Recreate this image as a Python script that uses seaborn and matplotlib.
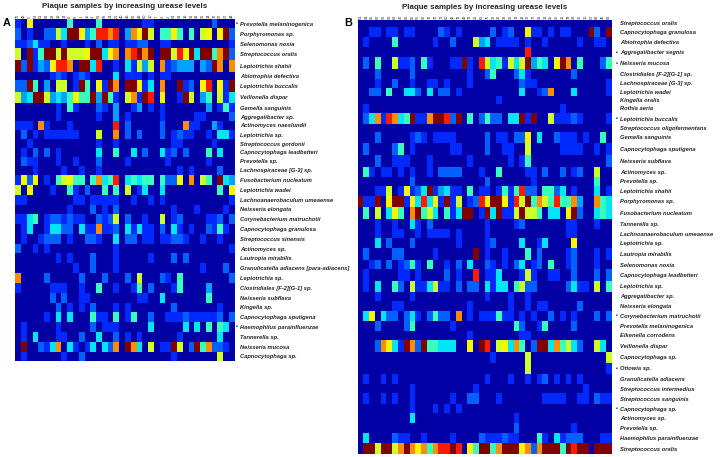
import numpy as np
import matplotlib
matplotlib.use('Agg')
import matplotlib.pyplot as plt
import seaborn as sns

# abundance level for each taxon: 0 (navy) ... 10 (dark red)
taxa_a = [
    'Prevotella melaninogenica', 'Porphyromonas sp.', 'Selenomonas noxia', 'Streptococcus oralis',
    'Leptotrichia shahii', 'Abiotrophia defectiva', 'Leptotrichia buccalis', 'Veillonella dispar',
    'Gemella sanguinis', 'Aggregatibacter sp.', 'Actinomyces naeslundii', 'Leptotrichia sp.',
    'Streptococcus gordonii', 'Capnocytophaga leadbetteri', 'Prevotella sp.', 'Lachnospiraceae [G-3] sp.',
    'Fusobacterium nucleatum', 'Leptotrichia wadei', 'Lachnoanaerobaculum umeaense', 'Neisseria elongata',
    'Corynebacterium matruchotii', 'Capnocytophaga granulosa', 'Streptococcus sinensis', 'Actinomyces sp.',
    'Lautropia mirabilis', 'Granulicatella adiacens [para-adiacens]', 'Leptotrichia sp.',
    'Clostridiales [F-2][G-1] sp.', 'Neisseria subflava', 'Kingella sp.', 'Capnocytophaga sputigena',
    'Haemophilus parainfluenzae', 'Tannerella sp.', 'Neisseria mucosa', 'Capnocytophaga sp.',
]
marked_a = ['Prevotella melaninogenica', 'Haemophilus parainfluenzae']
samples_a = [72, 48, 5, 53, 51, 58, 28, 19, 34, 6, 9, 1, 15, 4, 56, 59, 24, 26, 40, 46, 50, 43, 60, 10, 7, 3, 2,
             54, 33, 18, 39, 41, 36, 14, 32, 37, 27, 44]
row_heights_a = [27, 35, 25, 35, 35, 25, 35, 35, 27, 26, 27, 28, 27, 25, 28, 27, 30, 30, 30, 27, 30, 30, 30, 28,
                 30, 28, 30, 30, 30, 27, 30, 30, 30, 30, 28]
levels_a = [
    [1,0,7,0,0,0,0,0,0,5, 0,0,0,0,5,0,0,0,0,0, 0,0,1,1,0,0,0,0,0,0, 0,0,0,0,2,0,0,0],
    [2,0,1,0,0,2,2,6,4,10, 10,7,3,5,9,9,8,9,0,3, 8,7,10,6,0,5,5,7,5,0, 5,0,6,7,0,7,10,2],
    [1,1,2,4,1,1,0,0,1,0, 0,0,1,0,2,0,1,1,0,1, 1,2,2,0,0,1,1,0,0,0, 0,0,0,0,0,0,0,1],
    [6,0,10,1,5,10,10,6,10,6, 6,6,7,10,10,4,7,8,0,8, 9,10,8,10,0,10,10,6,9,7, 10,4,10,10,5,8,10,2],
    [10,2,10,1,3,2,7,9,9,8, 0,10,10,4,9,0,0,1,0,4, 1,6,3,6,0,8,1,2,3,3, 3,0,3,2,10,8,0,8],
    [0,0,0,0,0,0,1,2,1,0, 1,2,1,0,0,0,0,4,0,1, 1,1,0,1,0,1,1,0,0,0, 0,0,0,0,0,0,0,0],
    [2,2,10,5,0,3,0,6,6,0, 1,10,5,0,7,1,10,8,0,10, 10,7,1,4,0,8,0,0,10,1, 2,0,7,9,0,7,1,10],
    [6,3,4,10,10,6,3,4,3,5, 7,5,5,10,3,10,5,1,0,6, 8,1,10,9,0,7,0,0,1,10, 6,0,3,5,0,6,1,4],
    [0,0,0,0,0,0,0,1,0,5, 1,0,0,0,2,1,0,3,0,0, 1,3,0,1,0,1,0,0,0,0, 0,0,0,3,0,1,5,1],
    [0,0,0,0,0,0,0,1,0,0, 0,0,0,0,1,0,0,3,0,1, 0,0,0,0,0,1,0,0,0,0, 0,1,1,0,0,0,0,2],
    [1,1,1,0,8,1,0,0,0,1, 0,0,0,0,0,0,0,9,0,2, 0,0,0,0,0,2,0,0,0,8, 1,1,0,0,3,1,0,0],
    [0,2,0,1,0,1,1,1,1,1, 1,0,0,0,6,0,0,8,0,2, 0,2,0,0,0,2,0,1,2,1, 1,0,0,1,0,4,4,1],
    [0,0,1,0,0,0,0,0,0,0, 0,0,0,0,1,0,0,1,0,0, 0,0,0,0,0,0,0,1,1,0, 0,0,0,0,1,0,0,0],
    [0,1,0,2,0,2,0,1,0,0, 0,0,0,0,4,0,0,5,0,0, 4,0,2,0,0,4,1,2,0,2, 0,0,0,5,0,4,0,0],
    [0,2,1,1,0,0,0,1,0,0, 1,0,0,0,2,0,0,0,0,1, 0,0,0,0,0,0,1,0,0,0, 0,0,0,1,0,0,0,0],
    [0,0,0,1,0,0,0,0,1,0, 0,1,0,0,1,0,0,0,0,0, 0,0,0,0,0,0,0,0,1,0, 1,0,0,0,0,2,0,0],
    [1,7,2,7,0,1,0,5,6,7, 5,5,0,5,8,4,5,9,0,4, 5,4,5,5,0,5,2,2,7,0, 8,0,6,5,0,10,4,3],
    [6,0,7,0,0,0,1,0,0,5, 1,0,2,0,0,5,0,5,0,6, 0,1,4,0,0,4,0,0,0,0, 0,0,0,0,0,5,0,7],
    [1,1,0,0,0,0,0,0,0,0, 1,1,0,1,1,1,1,1,0,0, 1,0,0,1,0,1,0,0,0,0, 0,0,0,0,0,0,0,1],
    [0,0,0,0,0,0,0,0,0,1, 0,0,0,2,0,1,0,2,0,0, 0,0,0,0,0,0,0,1,0,0, 0,1,0,0,0,0,1,0],
    [1,1,4,5,0,1,2,2,1,2, 1,1,0,0,2,1,2,6,0,2, 0,0,1,0,0,6,0,1,2,0, 0,0,0,1,1,2,0,2],
    [0,1,4,0,0,1,4,4,2,2, 0,4,1,1,8,1,1,2,0,4, 1,4,1,1,0,2,0,4,1,0, 1,0,0,2,1,5,1,0],
    [0,1,0,0,1,2,2,2,0,1, 0,0,2,2,1,0,0,4,0,2, 2,0,1,1,0,1,1,2,2,1, 0,0,1,0,0,1,0,0],
    [2,0,0,1,0,1,0,0,0,0, 0,0,0,0,0,0,0,1,0,0, 0,0,0,0,0,0,0,0,0,0, 0,0,0,0,0,0,0,1],
    [0,0,0,0,0,0,0,1,0,1, 0,0,0,2,0,0,0,1,0,0, 0,0,0,1,0,0,0,2,0,2, 0,0,0,0,0,0,0,0],
    [0,0,0,0,0,0,0,0,0,0, 1,0,0,2,0,0,0,1,0,0, 0,0,0,0,0,0,0,0,0,0, 0,0,1,0,0,0,2,0],
    [8,0,0,0,0,2,0,0,0,0, 0,2,0,0,0,2,0,0,0,2, 0,6,0,0,0,2,1,0,5,0, 0,0,0,0,0,0,0,2],
    [1,0,0,0,0,0,1,1,1,0, 0,1,0,0,5,0,0,1,0,0, 1,5,0,2,0,0,0,1,5,0, 0,0,0,3,0,0,0,0],
    [0,0,0,0,0,0,2,0,2,0, 0,1,1,0,0,0,0,0,0,0, 0,1,1,0,0,4,0,0,0,0, 0,0,0,5,0,0,0,0],
    [0,0,0,0,0,0,0,2,0,1, 0,1,0,2,0,0,0,1,0,1, 0,0,0,0,0,0,0,2,0,0, 0,0,0,0,0,1,0,0],
    [0,0,0,0,0,1,0,4,0,4, 0,0,0,5,1,1,0,5,0,1, 5,0,0,2,0,0,1,1,1,2, 1,1,1,1,1,2,0,2],
    [0,1,0,0,0,0,0,1,0,0, 0,0,0,2,0,1,1,1,0,0, 0,0,0,4,0,0,0,0,0,4, 0,4,0,5,0,5,4,0],
    [0,1,0,4,0,0,0,1,1,0, 0,2,0,0,4,0,0,2,0,1, 0,1,0,0,0,0,0,0,1,0, 0,0,0,0,0,4,0,0],
    [0,10,0,0,2,1,4,8,0,4, 1,0,1,4,0,4,2,8,0,10, 8,4,0,6,0,1,1,10,6,0, 2,10,5,8,2,2,1,0],
    [0,1,0,0,0,0,0,0,1,0, 0,2,0,0,0,0,0,0,0,0, 0,0,0,0,0,0,0,1,0,0, 0,0,0,0,0,6,0,0],
]

taxa_b = [
    'Streptococcus oralis', 'Capnocytophaga granulosa', 'Abiotrophia defectiva', 'Aggregatibacter segnis',
    'Neisseria mucosa', 'Clostridiales [F-2][G-1] sp.', 'Lachnospiraceae [G-3] sp.', 'Leptotrichia wadei',
    'Kingella oralis', 'Rothia aeria', 'Leptotrichia buccalis', 'Streptococcus oligofermentans',
    'Gemella sanguinis', 'Capnocytophaga sputigena', 'Neisseria subflava', 'Actinomyces sp.', 'Prevotella sp.',
    'Leptotrichia shahii', 'Porphyromonas sp.', 'Fusobacterium nucleatum', 'Tannerella sp.',
    'Lachnoanaerobaculum umeaense', 'Leptotrichia sp.', 'Lautropia mirabilis', 'Selenomonas noxia',
    'Capnocytophaga leadbetteri', 'Leptotrichia sp.', 'Aggregatibacter sp.', 'Neisseria elongata',
    'Corynebacterium matruchotii', 'Prevotella melaninogenica', 'Eikenella corrodens', 'Veillonella dispar',
    'Capnocytophaga sp.', 'Ottowia sp.', 'Granulicatella adiacens', 'Streptococcus intermedius',
    'Streptococcus sanguinis', 'Capnocytophaga sp.', 'Actinomyces sp.', 'Prevotella sp.',
    'Haemophilus parainfluenzae', 'Streptococcus oralis',
]
marked_b = [3, 4, 10, 29, 34, 38]
samples_b = [61, 64, 65, 67, 56, 63, 68, 47, 69, 55, 52, 62, 76, 70, 71, 60, 42, 78, 49, 73, 21, 66, 75, 29, 20,
             38, 22, 74, 12, 17, 77, 31, 13, 25, 35, 11, 79, 23, 30, 16, 57, 83, 45, 81]
row_heights_b = [20, 32, 30, 30, 36, 29, 26, 25, 24, 26, 35, 22, 35, 35, 35, 30, 28, 29, 35, 35, 30, 28, 30, 35,
                 28, 35, 32, 27, 30, 30, 30, 28, 35, 33, 34, 31, 27, 32, 28, 30, 30, 30, 32]
levels_b = [
    [0,0,0,0,0,0,0,0,0,0, 0,0,0,0,0,0,0,0,0,0, 0,0,0,0,0,0,0,0,0,0, 0,0,0,0,0,0,0,0,0,0, 0,0,0,0],
    [0,0,1,1,0,1,1,0,1,1, 0,0,0,0,2,1,0,1,0,0, 0,0,0,2,0,1,2,0,0,7, 1,1,0,1,0,1,1,0,0,0, 10,2,0,10],
    [0,1,0,0,0,0,5,0,0,0, 0,0,0,1,0,0,2,0,0,0, 6,3,4,0,1,1,1,1,0,1, 0,0,1,0,0,0,0,0,1,0, 0,1,1,0],
    [0,0,0,0,0,0,0,0,0,0, 0,0,0,0,0,0,0,0,0,0, 0,0,0,0,0,0,0,0,0,9, 0,0,0,0,0,0,0,0,0,0, 0,0,0,0],
    [0,2,0,5,0,0,6,1,1,2, 0,5,1,0,0,0,1,1,10,1, 0,9,6,4,5,1,6,4,6,10, 3,5,4,0,7,10,8,0,5,0, 0,0,2,5],
    [0,0,0,2,0,0,0,0,0,2, 0,0,0,0,0,0,0,0,0,1, 0,0,2,5,0,0,0,2,4,1, 0,0,0,0,0,0,0,2,0,0, 0,0,0,0],
    [0,0,0,1,0,0,2,0,0,1, 0,0,1,1,0,1,0,0,0,1, 0,0,0,0,0,0,0,0,2,1, 1,0,0,0,0,0,0,0,0,0, 0,0,0,1],
    [0,0,2,2,0,5,0,0,4,4, 2,0,4,0,2,2,0,1,0,0, 0,0,0,0,0,0,0,0,4,0, 0,1,2,8,0,0,0,4,0,0, 0,0,0,1],
    [0,0,0,0,0,0,0,0,0,0, 0,0,0,0,0,0,0,0,0,0, 0,0,0,0,1,0,0,0,0,0, 0,0,0,0,0,0,0,0,0,0, 0,0,0,0],
    [0,1,0,0,0,0,0,0,0,0, 0,0,0,0,0,0,0,0,0,0, 0,0,0,0,0,0,0,0,0,0, 0,0,0,0,0,1,0,0,0,0, 0,0,0,0],
    [0,2,4,8,1,9,8,4,5,10, 1,1,8,10,10,9,2,10,0,5, 0,2,5,2,2,0,4,4,10,1, 10,0,0,6,1,1,1,2,1,0, 0,0,0,1],
    [0,0,0,0,0,0,0,0,0,0, 0,0,0,0,0,0,0,0,0,0, 0,0,0,0,0,0,0,0,0,0, 0,0,0,0,0,0,0,0,0,0, 0,0,0,0],
    [0,0,0,2,0,0,0,0,0,1, 2,1,0,1,1,1,1,0,0,0, 0,0,2,0,1,1,0,2,2,7, 0,4,0,0,2,1,1,1,0,1, 0,0,5,0],
    [0,2,0,0,0,0,2,5,0,1, 0,0,0,0,0,0,1,1,0,0, 0,0,2,0,0,1,1,0,0,6, 0,0,0,0,0,1,1,1,1,0, 0,1,0,1],
    [0,0,0,2,0,0,1,1,1,0, 0,0,1,0,0,0,0,0,0,1, 0,0,0,0,0,0,1,0,1,5, 0,0,0,0,0,0,0,0,0,0, 0,0,0,2],
    [0,5,1,0,1,1,0,1,0,1, 0,0,1,0,2,2,2,2,0,0, 0,1,0,0,5,0,0,0,0,1, 1,0,2,0,0,2,0,1,2,0, 0,6,0,0],
    [0,0,0,0,0,0,0,0,0,2, 0,0,0,0,0,0,0,0,0,0, 0,0,2,0,0,0,0,0,0,0, 1,0,0,0,0,0,0,0,0,0, 0,5,0,0],
    [0,0,0,1,1,6,0,1,7,1, 2,4,10,1,3,4,1,1,0,5, 0,1,1,0,1,5,1,5,9,2, 2,0,5,5,2,4,0,1,0,0, 0,4,0,1],
    [10,1,1,10,0,7,10,10,1,7, 4,9,4,7,1,10,1,6,0,1, 2,9,7,10,10,7,1,9,6,10, 5,8,6,5,9,5,5,8,3,0, 0,8,5,4],
    [0,5,0,6,0,4,7,5,0,8, 10,5,6,4,0,5,1,4,10,10, 0,1,10,4,10,1,1,6,10,6, 6,5,0,4,4,0,7,10,2,0, 0,4,5,4],
    [0,0,0,1,0,0,1,0,0,4, 1,0,2,0,0,0,0,0,0,0, 0,0,1,0,0,0,0,1,2,0, 0,0,0,0,0,0,1,1,0,0, 0,1,0,0],
    [0,0,0,1,0,0,1,1,0,0, 1,0,1,1,1,1,0,1,0,0, 0,0,1,0,0,0,0,0,0,0, 0,0,0,0,0,0,1,1,0,0, 0,0,0,0],
    [0,0,0,4,0,2,0,0,0,2, 0,0,0,0,0,0,0,1,0,0, 0,0,1,2,0,0,0,0,4,0, 0,1,4,0,0,0,0,7,0,0, 0,0,0,0],
    [0,2,0,0,0,0,2,2,0,0, 0,0,0,1,0,0,0,0,0,0, 10,0,1,0,0,1,0,0,0,5, 0,2,0,0,0,0,1,2,0,0, 0,1,0,1],
    [0,0,1,2,0,2,0,1,2,5, 1,0,5,0,0,1,0,2,0,4, 0,0,2,1,0,1,0,2,4,0, 1,2,0,5,0,0,1,2,0,0, 0,1,0,0],
    [0,1,0,0,0,0,0,1,1,0, 1,0,0,0,0,2,0,1,0,0, 9,0,1,1,4,0,0,0,1,6, 1,0,0,1,1,0,0,2,0,0, 0,2,0,2],
    [0,1,0,4,0,0,5,2,0,6, 1,1,4,6,1,1,0,2,0,2, 2,0,4,1,4,4,0,5,6,2, 2,0,0,0,0,0,2,4,1,1, 0,6,0,5],
    [0,0,0,1,0,0,0,0,0,1, 0,0,0,0,0,0,0,0,0,0, 0,0,1,0,0,0,1,0,0,1, 0,0,0,0,0,0,0,0,0,0, 0,0,0,0],
    [0,0,0,0,0,0,1,1,0,0, 0,0,0,0,0,0,0,0,0,1, 0,0,0,0,0,0,1,0,0,1, 0,1,1,0,0,0,0,0,2,0, 0,0,0,0],
    [0,4,7,0,4,2,2,0,2,4, 1,0,2,5,2,2,0,8,0,1, 0,1,1,1,5,1,1,0,1,0, 1,0,0,2,0,1,0,1,0,0, 0,2,0,2],
    [0,0,0,2,0,0,0,0,2,5, 0,0,0,0,0,0,1,0,0,0, 0,0,0,0,0,0,0,5,2,0, 0,1,5,0,0,0,0,2,0,0, 0,0,0,0],
    [0,0,0,0,0,0,0,0,0,0, 0,0,0,0,0,0,0,0,0,1, 0,0,0,0,0,0,0,0,1,1, 0,0,0,0,0,0,0,0,0,0, 0,0,0,0],
    [0,0,0,2,8,7,4,1,10,8, 2,10,5,5,4,4,4,0,0,7, 0,10,9,0,6,7,4,8,5,0, 2,10,10,4,8,5,6,4,2,0, 0,6,4,0],
    [0,0,0,0,0,0,0,0,0,0, 0,0,0,0,0,0,0,0,0,0, 0,0,0,1,0,0,0,0,0,6, 0,0,0,0,0,0,0,0,0,0, 0,0,0,6],
    [0,0,0,0,0,0,0,0,0,0, 0,0,0,0,0,0,0,0,0,0, 0,0,0,0,0,0,0,0,0,6, 0,0,0,0,0,0,0,0,0,0, 0,0,0,1],
    [0,1,0,0,1,0,1,0,0,0, 0,0,0,0,0,0,0,0,0,0, 0,0,1,0,0,0,1,0,0,1, 0,1,2,0,1,0,1,0,1,0, 0,0,0,0],
    [0,0,0,0,0,0,0,0,0,1, 0,0,0,0,0,0,0,0,0,0, 1,0,0,0,0,0,0,0,0,0, 0,0,0,0,0,0,0,0,0,1, 0,0,0,0],
    [0,1,0,0,1,0,1,0,0,1, 0,0,0,0,0,0,1,0,0,2, 2,0,0,0,1,0,0,0,0,0, 0,0,1,1,1,1,0,0,1,1, 0,2,1,1],
    [0,0,0,0,0,0,0,0,0,1, 0,0,0,1,0,1,0,1,0,0, 0,0,0,0,0,0,0,0,0,0, 0,0,0,0,0,0,0,0,0,0, 0,0,0,0],
    [0,0,0,0,0,0,0,0,0,4, 0,0,0,0,0,0,0,0,0,0, 0,0,0,0,0,0,0,1,0,0, 0,0,0,0,0,0,0,0,0,0, 0,0,0,0],
    [0,0,0,0,0,0,0,0,0,0, 0,0,0,0,0,0,0,0,0,0, 0,0,0,0,0,0,0,2,0,0, 0,0,0,0,0,0,0,1,0,0, 0,0,0,0],
    [0,4,0,0,0,0,2,1,1,0, 0,1,0,0,0,0,1,0,0,0, 0,2,1,1,1,2,1,1,0,0, 0,5,1,0,4,1,2,2,2,0, 0,0,1,1],
    [0,10,10,6,10,10,6,8,10,8, 7,8,5,8,9,9,10,9,0,7, 5,10,10,5,8,10,10,10,7,8, 2,8,10,10,10,5,10,9,10,10, 0,10,10,10],
]

# position on the jet scale for each level
jet_positions = np.array([0.035, 0.165, 0.22, 0.285, 0.35, 0.42, 0.6, 0.65, 0.76, 0.88, 1.0])

W, H = 723, 457


def panel(fig, box, levels, heights, taxa, samples, marked, pad, letter, letter_x):
    """One heat map. box is (left, top, right, bottom) in pixels."""
    left, top, right, bottom = box
    ax = fig.add_axes([left / W, 1 - bottom / H, (right - left) / W, (bottom - top) / H])

    # rows in the figure are not equally tall, so repeat each one by its height
    tall = np.repeat(np.array(levels), heights, axis=0)
    sns.heatmap(jet_positions[tall], cmap='jet', vmin=0, vmax=1, cbar=False, ax=ax,
                xticklabels=samples, yticklabels=False)

    ax.xaxis.tick_top()
    ax.tick_params(axis='x', length=0, pad=0.6, labelsize=2.8, labelrotation=90, labelcolor='#333333')

    edges = np.cumsum(heights)
    centers = edges - np.array(heights) / 2
    ax.yaxis.tick_right()
    ax.set_yticks(centers)
    ax.set_yticklabels(taxa, rotation=0, fontsize=4.15, fontweight='bold', fontstyle='italic', color='#222222')
    ax.tick_params(axis='y', length=0, pad=pad)

    ax.set_title('Plaque samples by increasing urease levels', fontsize=5.65, fontweight='bold',
                 color='#222222', y=1.0, pad=8)

    for i in marked:
        fig.text((right + pad * 1.389 - 3.5) / W, 1 - (top + centers[i] * (bottom - top) / edges[-1]) / H,
                 '\u2022', fontsize=4.2, fontweight='bold', color='#222222', ha='center', va='center')
    fig.text(letter_x / W, 1 - 23.5 / H, letter, fontsize=7.8, fontweight='bold', color='black',
             ha='left', va='center')
    return ax


sns.set_theme(style='white')
plt.rcParams['font.family'] = ['Liberation Sans', 'DejaVu Sans']

fig = plt.figure(figsize=(W / 100, H / 100), dpi=100)
marked_rows_a = [i for i, name in enumerate(taxa_a) if name in marked_a]
panel(fig, (15.3, 19.3, 234.7, 361), levels_a, row_heights_a, taxa_a, samples_a, marked_rows_a, 4, 'A', 2.5)
panel(fig, (357.6, 20, 611.7, 454), levels_b, row_heights_b, taxa_b, samples_b, marked_b, 6, 'B', 344.5)
fig.savefig('out.png', dpi=100)
